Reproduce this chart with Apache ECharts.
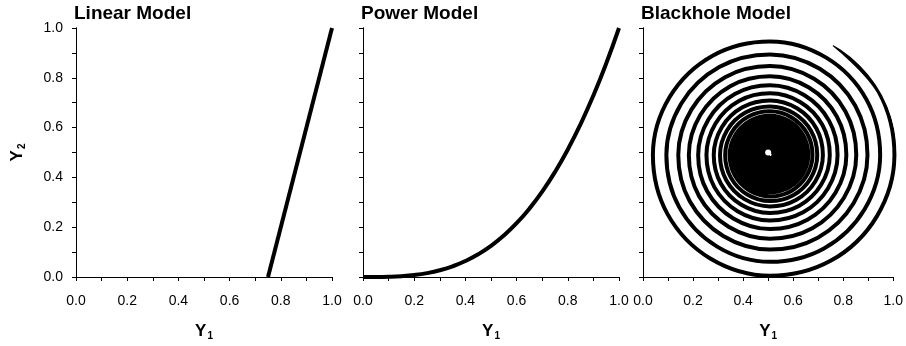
<!DOCTYPE html>
<html>
<head>
<meta charset="utf-8">
<script src="https://cdn.jsdelivr.net/npm/echarts@6/dist/echarts.min.js"></script>
<style>
  html, body { margin: 0; padding: 0; background: #fff; }
  #chart { width: 906px; height: 346px; }
</style>
</head>
<body>
<div id="chart"></div>
<script>
var titles = ['Linear Model', 'Power Model', 'Blackhole Model'];
var tickLabels = ['0.0', '0.2', '0.4', '0.6', '0.8', '1.0'];

// linear model: straight line
var linearX = [0.75, 1.0];
var linearY = [0.0, 1.0];

// power model: curve
var powerX = [0, 0.05, 0.1, 0.15, 0.2, 0.25, 0.3, 0.35, 0.4, 0.45, 0.5,
  0.55, 0.6, 0.65, 0.7, 0.75, 0.8, 0.85, 0.9, 0.95, 1.0];
var powerY = [0, 0.0001, 0.001, 0.0034, 0.008, 0.0156, 0.027, 0.0429, 0.064, 0.0911, 0.125,
  0.1664, 0.216, 0.2746, 0.343, 0.4219, 0.512, 0.6141, 0.729, 0.8574, 1.0];

// blackhole model: spiral radius (distance from 0.5,0.5) per turn, at these angles
var spiralAngles = [60, 30, 0, 330, 300, 270, 240, 210, 180, 150, 120, 90];
var spiralTurns = [
  [0.5030, 0.4950, 0.4900, 0.4850, 0.4801, 0.4753, 0.4705, 0.4657, 0.4610, 0.4563, 0.4517, 0.4471],
  [0.4426, 0.4381, 0.4337, 0.4293, 0.4250, 0.4207, 0.4164, 0.4122, 0.4080, 0.4039, 0.3998, 0.3957],
  [0.3917, 0.3877, 0.3838, 0.3799, 0.3761, 0.3723, 0.3685, 0.3648, 0.3611, 0.3574, 0.3538, 0.3502],
  [0.3466, 0.3431, 0.3396, 0.3362, 0.3328, 0.3294, 0.3261, 0.3228, 0.3195, 0.3162, 0.3130, 0.3099],
  [0.3068, 0.3037, 0.3006, 0.2976, 0.2945, 0.2916, 0.2886, 0.2857, 0.2828, 0.2799, 0.2771, 0.2743],
  [0.2715, 0.2687, 0.2660, 0.2633, 0.2606, 0.2580, 0.2554, 0.2528, 0.2502, 0.2477, 0.2452, 0.2427],
  [0.2402, 0.2378, 0.2354, 0.2330, 0.2307, 0.2283, 0.2260, 0.2237, 0.2215, 0.2192, 0.2170, 0.2148],
  [0.2126, 0.2104, 0.2083, 0.2063, 0.2044, 0.2025, 0.2006, 0.1987, 0.1968, 0.1950, 0.1931, 0.1913],
  [0.1893, 0.1876, 0.1860, 0.1844, 0.1828, 0.1812, 0.1796, 0.1780, 0.1765, 0.1749, 0.1734, 0.1719],
  [0.1704, 0.1689, 0.1674, 0.1659, 0.1645, 0.1630, 0.1616, 0.1602, 0.1588, 0.1574, 0.1560, 0.1547],
  [0.1534, 0.1520, 0.1507, 0.1494, 0.1481, 0.1468, 0.1455, 0.1442, 0.1430, 0.1417, 0.1405, 0.1393],
  [0.1380, 0.1368, 0.1356, 0.1344, 0.1332, 0.1321, 0.1309, 0.1298, 0.1286, 0.1275, 0.1264, 0.1253],
  [0.1243, 0.1232, 0.1220, 0.1208, 0.1197, 0.1185, 0.1173, 0.1162, 0.1150, 0.1138, 0.1127, 0.1115],
  [0.1103, 0.1092, 0.1080, 0.1068, 0.1057, 0.1045, 0.1033, 0.1022, 0.1010, 0.0998, 0.0987, 0.0975],
  [0.0963, 0.0952, 0.0940, 0.0928, 0.0917, 0.0905, 0.0893, 0.0882, 0.0870, 0.0858, 0.0847, 0.0835],
  [0.0823, 0.0812, 0.0800, 0.0788, 0.0777, 0.0765, 0.0753, 0.0742, 0.0730, 0.0718, 0.0707, 0.0695],
  [0.0683, 0.0672, 0.0660, 0.0648, 0.0637, 0.0625, 0.0613, 0.0602, 0.0590, 0.0578, 0.0567, 0.0555],
  [0.0543, 0.0532, 0.0520, 0.0508, 0.0497, 0.0485, 0.0473, 0.0462, 0.0450, 0.0438, 0.0427, 0.0415],
  [0.0403, 0.0392, 0.0380, 0.0368, 0.0357, 0.0345, 0.0333, 0.0322, 0.0310, 0.0298, 0.0287, 0.0275],
  [0.0265, 0.0255, 0.0245, 0.0235, 0.0225, 0.0215, 0.0205, 0.0195, 0.0185, 0.0178, 0.0170, 0.0163],
  [0.0155, 0.0148, 0.0140, 0.0133, 0.0125, 0.0118, 0.0110, 0.0103, 0.0095, 0.0088, 0.0080, 0.0073]
];
// white dot in the middle of the black hole
var holeCenter = [[0.5, 0.5]];

var font = '"Liberation Sans", Arial, sans-serif';
var black = '#000';
var panelLeft = [76, 363, 643];
var panelWidth = [256, 256, 254];

function pair(xs, ys) {
  return xs.map(function (x, i) { return [x, ys[i]]; });
}

var spiralData = [];
spiralTurns.forEach(function (turn) {
  turn.forEach(function (r, i) {
    spiralData.push([r, spiralAngles[i]]);
  });
});

var nameRich = {
  b: { fontSize: 17, fontWeight: 'bold', fontFamily: font, color: black },
  s: { fontSize: 10, fontWeight: 'bold', fontFamily: font, color: black, padding: [9, 0, 0, 1] }
};

var grids = [], xAxes = [], yAxes = [], titleList = [];
panelLeft.forEach(function (left, i) {
  grids.push({ left: left, top: 28, width: panelWidth[i], height: 254 });
  titleList.push({
    text: titles[i], left: left - 2, top: 4, padding: 0,
    textStyle: { fontSize: 19, fontWeight: 'bold', fontFamily: font, color: black }
  });
  xAxes.push({
    type: 'value', gridIndex: i, min: 0, max: 1, interval: 0.2, position: 'bottom',
    name: '{b|Y}{s|1}', nameLocation: 'middle', nameGap: 45,
    nameTextStyle: { rich: nameRich },
    axisLine: { show: true, lineStyle: { color: black, width: 1 } },
    axisTick: { show: true, length: 4, lineStyle: { color: black } },
    minorTick: { show: true, splitNumber: 2, length: 4, lineStyle: { color: black } },
    splitLine: { show: false },
    axisLabel: {
      fontSize: 14, color: black, fontFamily: font, margin: 17,
      formatter: function (v) { return tickLabels[Math.round(v / 0.2)]; }
    }
  });
  xAxes.push({
    type: 'value', gridIndex: i, min: 0, max: 1, position: 'top',
    axisLine: { show: true, lineStyle: { color: black, width: 1 } },
    axisTick: { show: false }, axisLabel: { show: false }, splitLine: { show: false }
  });
  yAxes.push({
    type: 'value', gridIndex: i, min: 0, max: 1, interval: 0.2, position: 'left',
    name: i === 0 ? '{b|Y}{s|2}' : '', nameLocation: 'middle', nameGap: 49, nameRotate: 90,
    nameTextStyle: { rich: nameRich },
    axisLine: { show: true, lineStyle: { color: black, width: 1 } },
    axisTick: { show: true, length: 4, lineStyle: { color: black } },
    minorTick: { show: true, splitNumber: 2, length: 4, lineStyle: { color: black } },
    splitLine: { show: false },
    axisLabel: {
      show: i === 0, fontSize: 14, color: black, fontFamily: font, margin: 13,
      formatter: function (v) { return tickLabels[Math.round(v / 0.2)]; }
    }
  });
  yAxes.push({
    type: 'value', gridIndex: i, min: 0, max: 1, position: 'right',
    axisLine: { show: true, lineStyle: { color: black, width: 1 } },
    axisTick: { show: false }, axisLabel: { show: false }, splitLine: { show: false }
  });
});

var chart = echarts.init(document.getElementById('chart'), null, { renderer: 'canvas' });
chart.setOption({
  backgroundColor: '#fff',
  animation: false,
  title: titleList,
  grid: grids,
  xAxis: xAxes,
  yAxis: yAxes,
  polar: { center: [770, 155], radius: 127 },
  angleAxis: { type: 'value', min: 0, max: 360, startAngle: 0, clockwise: false, show: false },
  radiusAxis: { type: 'value', min: 0, max: 0.5, show: false },
  series: [
    {
      type: 'line', xAxisIndex: 0, yAxisIndex: 0, data: pair(linearX, linearY),
      showSymbol: false, clip: false, lineStyle: { color: black, width: 4 }
    },
    {
      type: 'line', xAxisIndex: 2, yAxisIndex: 2, data: pair(powerX, powerY),
      showSymbol: false, clip: false, smooth: true, lineStyle: { color: black, width: 4 }
    },
    {
      type: 'line', coordinateSystem: 'polar', polarIndex: 0, data: spiralData,
      showSymbol: false, clip: false, smooth: 0.36, lineStyle: { color: black, width: 4 }
    },
    {
      type: 'scatter', xAxisIndex: 4, yAxisIndex: 4, data: holeCenter, z: 10,
      symbol: 'circle', symbolSize: 6, itemStyle: { color: '#fff', opacity: 1 }, silent: true
    }
  ]
});
</script>
</body>
</html>
